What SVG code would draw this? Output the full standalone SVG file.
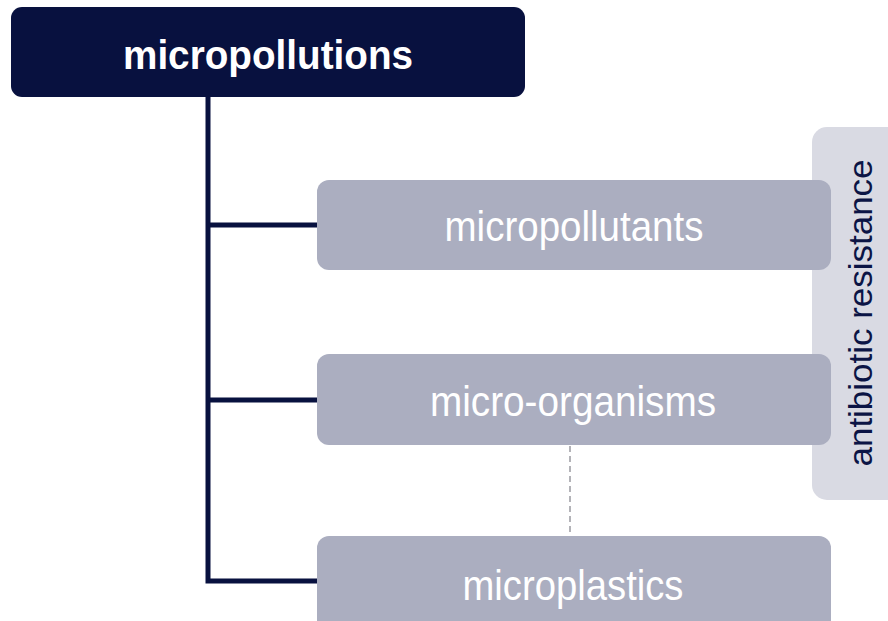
<svg xmlns="http://www.w3.org/2000/svg" width="888" height="621" viewBox="0 0 888 621">
  <style>
    .root { fill: #08113f; }
    .box { fill: #abaec0; }
    .side { fill: #d9dae3; }
    .lbl { font-family: "Liberation Sans", Arial, sans-serif; fill: #ffffff; text-anchor: middle; }
    .rootlbl { font-weight: bold; font-size: 41px; }
    .boxlbl { font-size: 42px; }
    .sidelbl { font-family: "Liberation Sans", Arial, sans-serif; fill: #0b1445; font-size: 33px; text-anchor: middle; }
    .conn { fill: none; stroke: #08113f; stroke-width: 5; }
    .dash { fill: none; stroke: #b3b3b8; stroke-width: 2; stroke-dasharray: 6 4; }
  </style>
  <g id="side-antibiotic-resistance">
    <rect class="side" x="812" y="127" width="100" height="373" rx="15"/>
    <text class="sidelbl" transform="translate(872 313) rotate(-90)" x="0" y="0" textLength="307" lengthAdjust="spacingAndGlyphs">antibiotic resistance</text>
  </g>
  <g id="connectors">
    <polyline class="conn" points="208,95 208,581 318,581"/>
    <line class="conn" x1="208" y1="225" x2="318" y2="225"/>
    <line class="conn" x1="208" y1="400" x2="318" y2="400"/>
    <line class="dash" x1="570" y1="446" x2="570" y2="532"/>
  </g>
  <g id="micropollutions">
    <rect class="root" x="11" y="7" width="514" height="90" rx="11"/>
    <text class="lbl rootlbl" x="268" y="69" textLength="290" lengthAdjust="spacingAndGlyphs">micropollutions</text>
  </g>
  <g id="micropollutants">
    <rect class="box" x="317" y="180" width="514" height="90" rx="12"/>
    <text class="lbl boxlbl" x="574" y="241" textLength="259" lengthAdjust="spacingAndGlyphs">micropollutants</text>
  </g>
  <g id="micro-organisms">
    <rect class="box" x="317" y="354" width="514" height="91" rx="12"/>
    <text class="lbl boxlbl" x="573" y="416" textLength="286" lengthAdjust="spacingAndGlyphs">micro-organisms</text>
  </g>
  <g id="microplastics">
    <rect class="box" x="317" y="536" width="514" height="100" rx="12"/>
    <text class="lbl boxlbl" x="573" y="600" textLength="221" lengthAdjust="spacingAndGlyphs">microplastics</text>
  </g>
</svg>
